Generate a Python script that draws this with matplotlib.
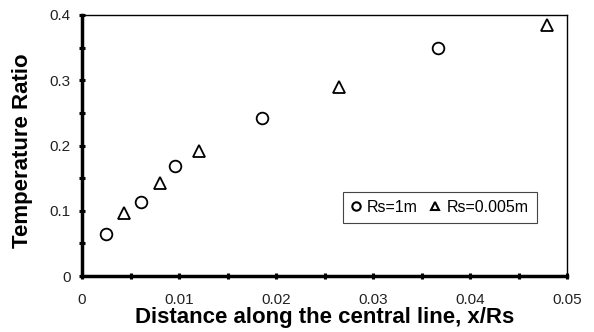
#!/usr/bin/env python3

import matplotlib.pyplot as plt
from matplotlib.lines import Line2D

plt.rcParams['font.family'] = ['Liberation Sans', 'DejaVu Sans']

# data
x_1m = [0.0025, 0.0061, 0.0096, 0.0186, 0.0367]
y_1m = [0.064, 0.113, 0.169, 0.242, 0.349]
x_5mm = [0.0043, 0.0080, 0.0121, 0.0265, 0.0479]
y_5mm = [0.097, 0.143, 0.192, 0.289, 0.385]

x_ticks = [0, 0.01, 0.02, 0.03, 0.04, 0.05]
x_ticklabels = ['0', '0.01', '0.02', '0.03', '0.04', '0.05']
y_ticks = [0, 0.1, 0.2, 0.3, 0.4]
y_ticklabels = ['0', '0.1', '0.2', '0.3', '0.4']

fig = plt.figure(figsize=(5.94, 3.32), dpi=100)
ax = fig.add_axes([82 / 594, 1 - 276 / 332, 485 / 594, 261 / 332])

ax.plot(x_1m, y_1m, 'o', ms=8.4, mfc='white', mec='black', mew=1.3, clip_on=False)
ax.plot(x_5mm, y_5mm, '^', ms=8.4, mfc='white', mec='black', mew=1.3, clip_on=False)

ax.set_xlim(0, 0.05)
ax.set_ylim(0, 0.4)
ax.set_xticks(x_ticks)
ax.set_xticklabels(x_ticklabels)
ax.set_yticks(y_ticks)
ax.set_yticklabels(y_ticklabels)
ax.set_xticks([0.005, 0.015, 0.025, 0.035, 0.045], minor=True)
ax.set_yticks([0.05, 0.15, 0.25, 0.35], minor=True)
ax.tick_params(which='both', direction='inout', length=4, width=2.2, labelsize=11,
               labelcolor='#222222')
ax.tick_params(axis='x', pad=10)
ax.tick_params(axis='y', pad=6)

for side in ['left', 'bottom']:
    ax.spines[side].set_linewidth(2.5)
for side in ['top', 'right']:
    ax.spines[side].set_linewidth(1.0)

ax.set_xlabel('Distance along the central line, x/Rs', fontsize=16, fontweight='bold', labelpad=0)
ax.set_ylabel('Temperature Ratio', fontsize=16, fontweight='bold')
ax.yaxis.set_label_coords(-0.101, 0.479)

handles = [
    Line2D([], [], ls='none', marker='o', ms=6, mfc='white', mec='black', mew=1.5),
    Line2D([], [], ls='none', marker='^', ms=6, mfc='white', mec='black', mew=1.5),
]
leg = ax.legend(handles, ['Rs=1m', 'Rs=0.005m'], ncol=2, fontsize=11.5,
                loc='upper left', bbox_to_anchor=((343 - 82) / 485, (276 - 192) / 261),
                fancybox=False, framealpha=1, edgecolor='#444444',
                handlelength=0.6, handletextpad=0.4, columnspacing=0.8,
                borderpad=0.5, borderaxespad=0)
leg.get_frame().set_linewidth(0.8)

plt.savefig('out.png', dpi=100)
plt.close()
